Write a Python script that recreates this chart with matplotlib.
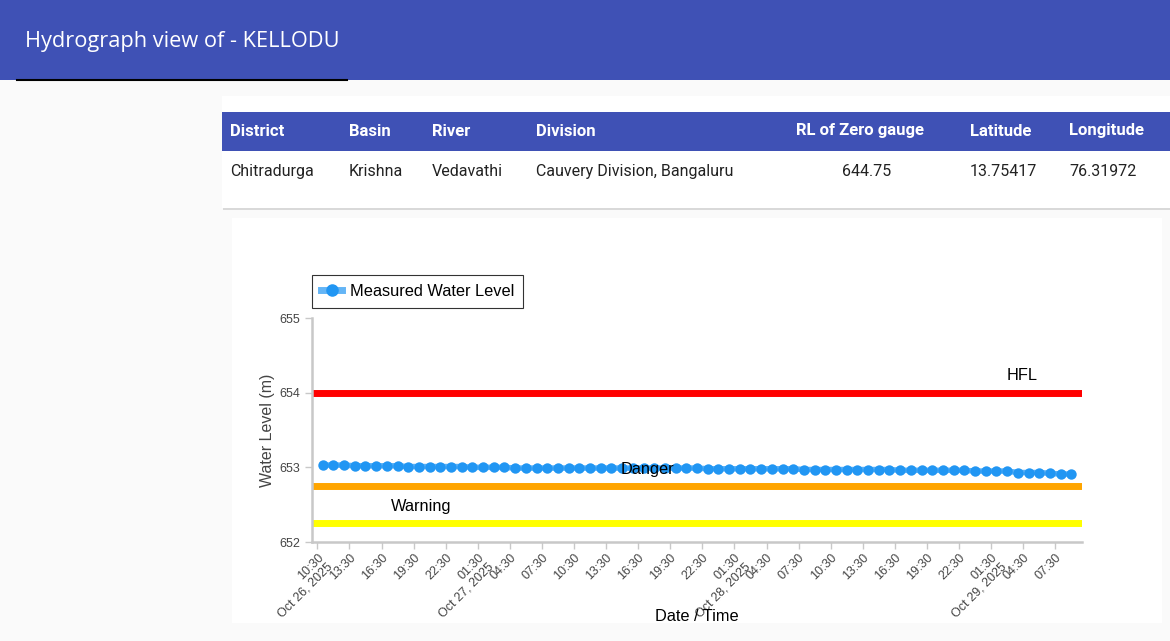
import numpy as np
import pandas as pd
import matplotlib
matplotlib.use("Agg")
import matplotlib.pyplot as plt
import matplotlib.dates as mdates
from matplotlib.patches import Rectangle
from matplotlib.lines import Line2D

W, H = 1170, 641

# --- data ---------------------------------------------------------------
station = "KELLODU"
table_cols = ["District", "Basin", "River", "Division", "RL of Zero gauge", "Latitude", "Longitude"]
table_vals = ["Chitradurga", "Krishna", "Vedavathi", "Cauvery Division, Bangaluru", "644.75", "13.75417", "76.31972"]

levels = [653.03, 653.03, 653.03, 653.02, 653.02, 653.02, 653.02, 653.02,
          653.01, 653.01, 653.01, 653.01, 653.01, 653.01, 653.00, 653.00,
          653.00, 653.00, 652.99, 652.99, 652.99, 652.99, 652.99, 652.99,
          652.99, 652.99, 652.99, 652.99, 652.99, 652.99, 652.99, 652.99,
          652.99, 652.99, 652.99, 652.99, 652.98, 652.98, 652.98, 652.98,
          652.98, 652.98, 652.98, 652.98, 652.98, 652.97, 652.97, 652.97,
          652.97, 652.97, 652.97, 652.97, 652.97, 652.97, 652.96, 652.96,
          652.96, 652.96, 652.96, 652.96, 652.96, 652.95, 652.95, 652.95,
          652.95, 652.93, 652.93, 652.93, 652.92, 652.91, 652.91]
times = pd.date_range("2025-10-26 11:00", periods=len(levels), freq="h")

hfl, danger, warning = 654.0, 652.75, 652.25

# --- helpers ------------------------------------------------------------
def fx(x):
    return x / W

def fy(y):
    return 1 - y / H

def box(x0, y0, x1, y1, color, z=-10):
    fig.patches.append(Rectangle((fx(x0), fy(y1)), fx(x1 - x0), (y1 - y0) / H,
                                 transform=fig.transFigure, facecolor=color,
                                 edgecolor="none", zorder=z))

fig = plt.figure(figsize=(W / 100, H / 100), dpi=100, facecolor="#fafafa")

# page header
box(0, 0, W, 80, "#3f51b5")
fig.text(fx(25), fy(41), f"Hydrograph view of - {station}", color="white",
         fontsize=15.7, family="Open Sans", va="center", ha="left")
fig.add_artist(Line2D([fx(17), fx(347)], [fy(80), fy(80)], color="black", lw=1.5,
                      transform=fig.transFigure))

# info card
box(223, 98, W, 210, "#d9d9d9", z=-12)
box(222, 96, W, 208, "white", z=-11)
box(222, 112, W, 151, "#3f51b5")
col_x = [230, 349, 432, 536, 860, 970, 1069]
for i, (c, v) in enumerate(zip(table_cols, table_vals)):
    ha = "center" if i == 4 else "left"
    vx = 867 if i == 4 else col_x[i]
    fig.text(fx(col_x[i]), fy(131), c, color="white", fontsize=12, weight="bold",
             family="Roboto", va="center", ha=ha)
    fig.text(fx(vx), fy(171), v, color="#222222", fontsize=11.5,
             family="Roboto", va="center", ha=ha)

# chart card
box(232, 218, 1162, 623, "white")

# --- chart --------------------------------------------------------------
plt.rcParams["font.family"] = ["Liberation Sans", "DejaVu Sans"]
ax = fig.add_axes([fx(312), fy(542), fx(770), 224 / H])
ax.set_facecolor("white")

ax.axhline(hfl, color="#ff0000", lw=5, zorder=2)
ax.axhline(danger, color="#ffa500", lw=5, zorder=2)
ax.axhline(warning, color="#ffff00", lw=5, zorder=2)

ax.plot(times, levels, color="#2196f3", lw=4, alpha=0.75, zorder=3)
ax.plot(times, levels, "o", color="#2196f3", ms=7.5, mec="none", zorder=4)

ax.text(0.922, 654.23, "HFL", transform=ax.get_yaxis_transform(), ha="center",
        va="center", fontsize=11.8, color="black", zorder=5)
ax.text(0.436, 652.97, "Danger", transform=ax.get_yaxis_transform(), ha="center",
        va="center", fontsize=11.8, color="black", zorder=5)
ax.text(0.142, 652.47, "Warning", transform=ax.get_yaxis_transform(), ha="center",
        va="center", fontsize=11.8, color="black", zorder=5)

ax.set_ylim(652, 655)
ax.set_yticks([652, 653, 654, 655])
ax.set_xlim(pd.Timestamp("2025-10-26 10:00"), pd.Timestamp("2025-10-29 10:00"))

ticks = pd.date_range("2025-10-26 10:30", "2025-10-29 07:30", freq="3h")
labels = []
prev_day = None
for t in ticks:
    lab = t.strftime("%H:%M")
    if t.day != prev_day:
        lab += "\n" + t.strftime("%b %d, %Y")
        prev_day = t.day
    labels.append(lab)
ax.set_xticks(ticks)
ax.set_xticklabels(labels, rotation=45, ha="right", va="top", rotation_mode="anchor",
                   multialignment="right", linespacing=1.15)

for s in ["top", "right"]:
    ax.spines[s].set_visible(False)
for s in ["left", "bottom"]:
    ax.spines[s].set_color("#c8c8c8")
    ax.spines[s].set_linewidth(1.8)
ax.tick_params(colors="#c8c8c8", labelcolor="#444444", labelsize=9, length=5, width=1)
ax.tick_params(axis="x", pad=2)

ax.set_ylabel("Water Level (m)", fontsize=11.5, color="#444444", labelpad=3)
xl = ax.set_xlabel("Date / Time", fontsize=11.8, color="black", labelpad=-8)

handle = Line2D([], [], color="#64b5f6", lw=5, marker="o", ms=8,
                mfc="#2196f3", mec="#2196f3")
leg = ax.legend([handle], ["Measured Water Level"], loc="lower left",
                bbox_to_anchor=(0.0, 1.045), frameon=True, fancybox=False,
                fontsize=11.8, handlelength=1.3, borderpad=0.55, borderaxespad=0,
                handletextpad=0.45)
leg.get_frame().set_edgecolor("black")
leg.get_frame().set_linewidth(0.8)

fig.savefig("out.png", dpi=100, facecolor=fig.get_facecolor())
